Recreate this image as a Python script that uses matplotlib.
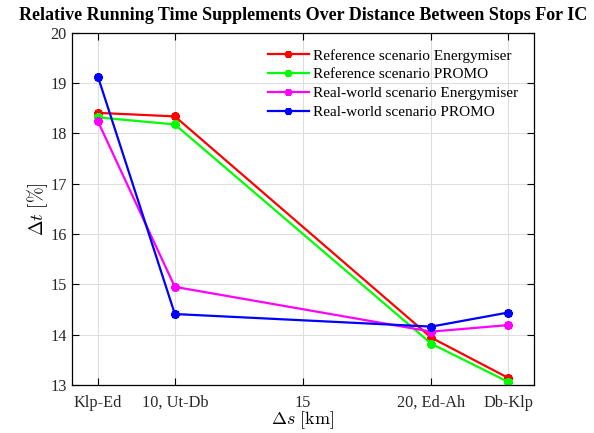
import matplotlib
matplotlib.use("Agg")
import matplotlib.pyplot as plt

plt.rcParams['font.family'] = ['Liberation Serif', 'DejaVu Serif']
plt.rcParams['mathtext.fontset'] = 'cm'

x = [7, 10, 20, 23]
ticks = [7, 10, 15, 20, 23]
tick_labels = ["Klp-Ed", "10, Ut-Db", "15", "20, Ed-Ah", "Db-Klp"]

ref_energymiser = [18.41, 18.34, 13.94, 13.14]
ref_promo = [18.32, 18.18, 13.82, 13.06]
real_energymiser = [18.24, 14.95, 14.06, 14.19]
real_promo = [19.13, 14.41, 14.16, 14.44]

series = [
    ("Reference scenario Energymiser", ref_energymiser, (1, 0, 0)),
    ("Reference scenario PROMO", ref_promo, (0, 1, 0)),
    ("Real-world scenario Energymiser", real_energymiser, (1, 0, 1)),
    ("Real-world scenario PROMO", real_promo, (0, 0, 1)),
]

fig = plt.figure(figsize=(5.94, 4.33), dpi=100)
ax = fig.add_axes([0.1217, 0.111, 0.777, 0.813])

for label, vals, col in series:
    ax.plot(x, vals, color=col, lw=1.6, marker=(6, 2, 0), ms=6, mew=2.6,
            label=label)

ax.set_xlim(6, 24)
ax.set_ylim(13, 20)
ax.set_xticks(ticks)
ax.set_xticklabels(tick_labels)
ax.set_yticks(range(13, 21))
ax.grid(True, color=(0.87, 0.87, 0.87), lw=0.8)
ax.set_axisbelow(True)
ax.tick_params(direction='in', length=5, width=0.8, labelsize=11.7, top=True, right=True,
               colors='black', labelcolor=(0.15, 0.15, 0.15))
ax.tick_params(axis='x', pad=7)
ax.tick_params(axis='y', pad=4)
for s in ax.spines.values():
    s.set_linewidth(0.9)

ax.set_xlabel(r'$\Delta s\ [\mathrm{km}]$', fontsize=13, labelpad=-1)
ax.set_ylabel(r'$\Delta t\ [\%]$', fontsize=13.5, labelpad=0)
ax.set_title('Relative Running Time Supplements Over Distance Between Stops For IC',
             fontsize=13, fontweight='bold', pad=9)

leg = ax.legend(loc='upper right', bbox_to_anchor=(0.99, 0.985), frameon=False,
                fontsize=11, handlelength=2.7, handletextpad=0.3,
                labelspacing=0.33, borderaxespad=0.3)
for h in leg.legend_handles:
    h.set_markersize(5)

fig.savefig('out.png', dpi=100)
